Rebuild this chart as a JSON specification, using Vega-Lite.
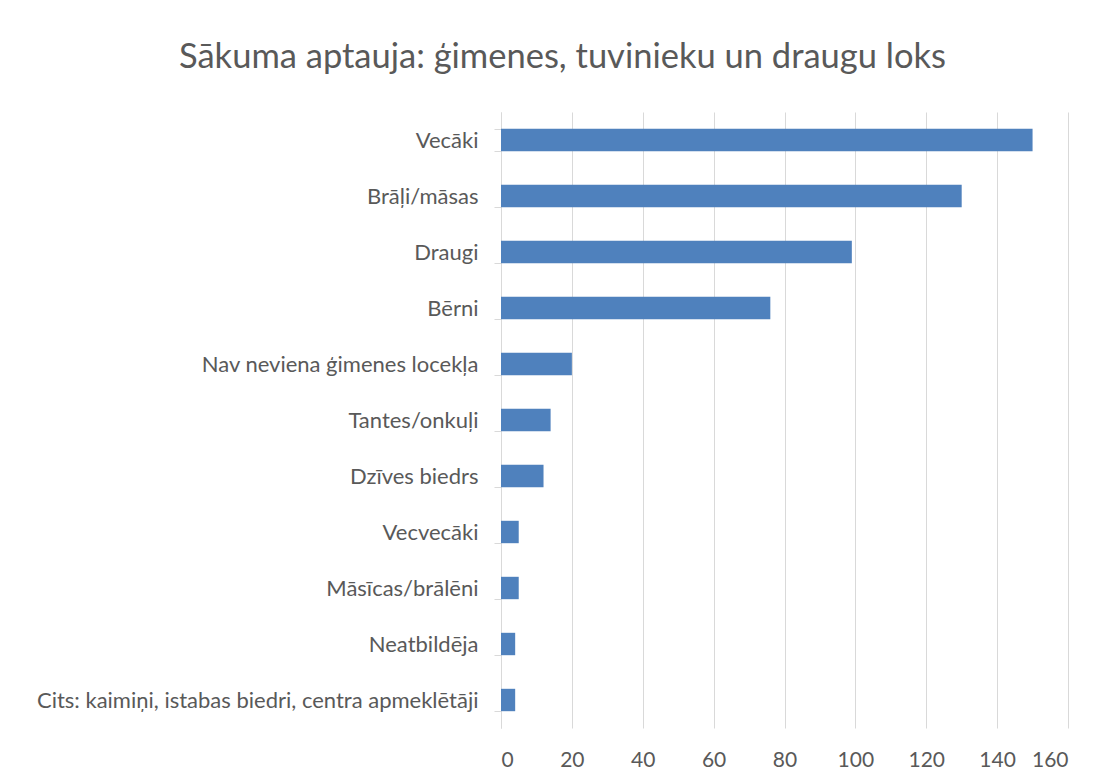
{
  "$schema": "https://vega.github.io/schema/vega-lite/v6.json",
  "autosize": {"type": "none"},
  "width": 567,
  "height": 616,
  "padding": {"left": 501, "top": 112, "right": 34, "bottom": 55},
  "background": "white",
  "title": {
    "text": "Sākuma aptauja: ģimenes, tuvinieku un draugu loks",
    "font": "Lato",
    "fontSize": 34.5,
    "fontWeight": "normal",
    "color": "#595959",
    "anchor": "middle",
    "frame": "group",
    "dx": -222,
    "baseline": "alphabetic",
    "offset": -1
  },
  "data": {
    "values": [
      {"kategorija": "Vecāki", "skaits": 150},
      {"kategorija": "Brāļi/māsas", "skaits": 130},
      {"kategorija": "Draugi", "skaits": 99},
      {"kategorija": "Bērni", "skaits": 76},
      {"kategorija": "Nav neviena ģimenes locekļa", "skaits": 20},
      {"kategorija": "Tantes/onkuļi", "skaits": 14},
      {"kategorija": "Dzīves biedrs", "skaits": 12},
      {"kategorija": "Vecvecāki", "skaits": 5},
      {"kategorija": "Māsīcas/brālēni", "skaits": 5},
      {"kategorija": "Neatbildēja", "skaits": 4},
      {"kategorija": "Cits: kaimiņi, istabas biedri, centra apmeklētāji", "skaits": 4}
    ]
  },
  "mark": {"type": "bar", "color": "#4f81bd"},
  "encoding": {
    "y": {
      "field": "kategorija",
      "type": "nominal",
      "sort": null,
      "scale": {"paddingInner": 0.6, "paddingOuter": 0.3},
      "axis": {
        "title": null,
        "tickBand": "extent",
        "tickSize": 7,
        "tickColor": "#d9d9d9",
        "tickWidth": 1,
        "domainColor": "#d9d9d9",
        "domainWidth": 1,
        "labelFont": "Lato",
        "labelFontSize": 22,
        "labelColor": "#595959",
        "labelPadding": 16,
        "labelLimit": 600,
        "grid": false
      }
    },
    "x": {
      "field": "skaits",
      "type": "quantitative",
      "scale": {"domain": [0, 160], "nice": false},
      "axis": {
        "title": null,
        "values": [0, 20, 40, 60, 80, 100, 120, 140, 160],
        "grid": true,
        "gridColor": "#d9d9d9",
        "gridWidth": 1,
        "domain": false,
        "ticks": false,
        "labelFont": "Lato",
        "labelFontSize": 21,
        "labelColor": "#595959",
        "labelPadding": 21
      }
    }
  },
  "config": {
    "view": {"stroke": null}
  }
}
